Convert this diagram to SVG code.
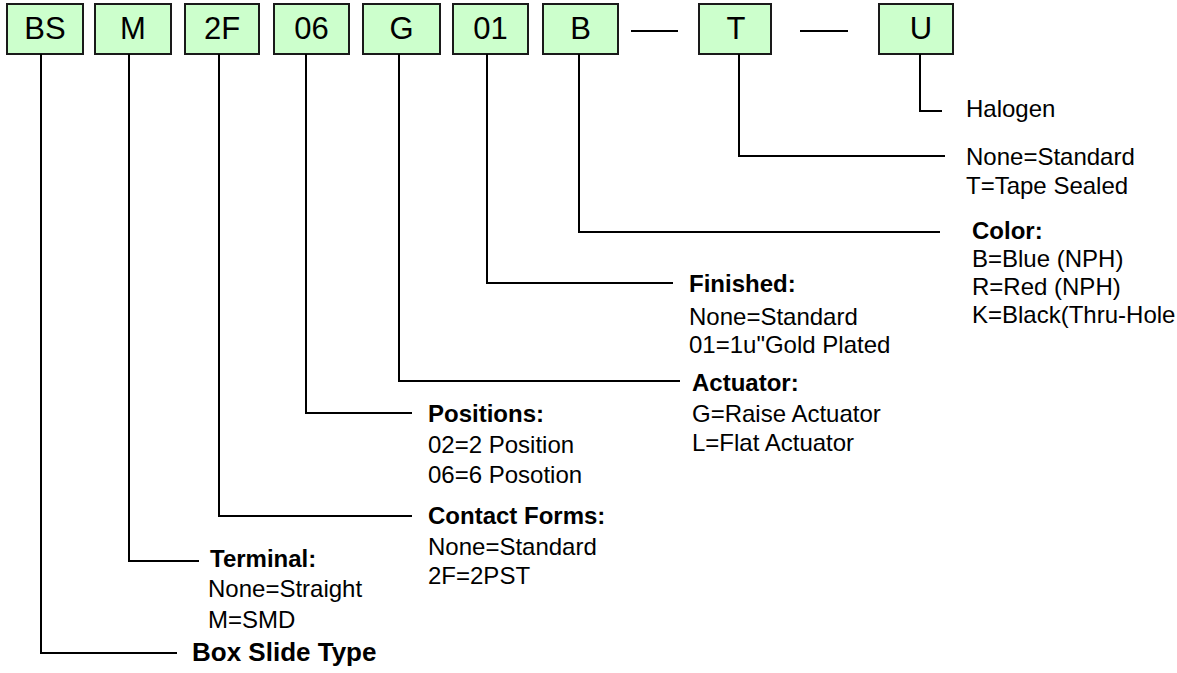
<svg xmlns="http://www.w3.org/2000/svg" width="1177" height="673" viewBox="0 0 1177 673">
<style>
.box{fill:#ccffcc;stroke:#1a1a1a;stroke-width:2}
.bt{font-family:"Liberation Sans",Arial,sans-serif;font-size:31px;fill:#000;text-anchor:middle}
.ln{fill:none;stroke:#000;stroke-width:2}
.t{font-family:"Liberation Sans",Arial,sans-serif;font-size:24px;fill:#000}
.h{font-weight:bold}
.big{font-size:26px}
</style>
<rect width="1177" height="673" fill="#fff"/>
<g id="node-BS"><rect class="box" x="7" y="4" width="76" height="50"/><text class="bt" x="45" y="39">BS</text></g>
<g id="node-M"><rect class="box" x="95" y="4" width="76" height="50"/><text class="bt" x="133" y="39">M</text></g>
<g id="node-2F"><rect class="box" x="185" y="4" width="74" height="50"/><text class="bt" x="222" y="39">2F</text></g>
<g id="node-06"><rect class="box" x="274" y="4" width="75" height="50"/><text class="bt" x="311.5" y="39">06</text></g>
<g id="node-G"><rect class="box" x="363" y="4" width="77" height="50"/><text class="bt" x="401.5" y="39">G</text></g>
<g id="node-01"><rect class="box" x="453" y="4" width="75" height="50"/><text class="bt" x="490.5" y="39">01</text></g>
<g id="node-B"><rect class="box" x="543" y="4" width="75" height="50"/><text class="bt" x="580.5" y="39">B</text></g>
<g id="node-T"><rect class="box" x="699" y="4" width="72" height="50"/><text class="bt" x="736" y="39">T</text></g>
<g id="node-U"><rect class="box" x="879" y="4" width="74" height="50"/><text class="bt" x="921" y="39">U</text></g>
<g id="connectors">
<path class="ln" d="M631 31H678"/>
<path class="ln" d="M800 31H848"/>
<path class="ln" d="M920 54V111H942"/>
<path class="ln" d="M739 54V156H945"/>
<path class="ln" d="M579 54V232H940"/>
<path class="ln" d="M487 54V283H673"/>
<path class="ln" d="M399 54V381H680"/>
<path class="ln" d="M306 54V413H412"/>
<path class="ln" d="M219 54V516H412"/>
<path class="ln" d="M129 54V561H199"/>
<path class="ln" d="M41 54V653H177"/>
</g>
<g id="label-U"><text class="t" x="966" y="117">Halogen</text></g>
<g id="label-T"><text class="t" x="966" y="165">None=Standard</text><text class="t" x="966" y="194">T=Tape Sealed</text></g>
<g id="label-B"><text class="t h" x="972" y="239">Color:</text><text class="t" x="972" y="267">B=Blue (NPH)</text><text class="t" x="972" y="295">R=Red (NPH)</text><text class="t" x="972" y="323">K=Black(Thru-Hole</text></g>
<g id="label-01"><text class="t h" x="689" y="292">Finished:</text><text class="t" x="689" y="325">None=Standard</text><text class="t" x="689" y="353">01=1u"Gold Plated</text></g>
<g id="label-G"><text class="t h" x="692" y="391">Actuator:</text><text class="t" x="692" y="422">G=Raise Actuator</text><text class="t" x="692" y="451">L=Flat Actuator</text></g>
<g id="label-06"><text class="t h" x="428" y="422">Positions:</text><text class="t" x="428" y="453">02=2 Position</text><text class="t" x="428" y="483">06=6 Posotion</text></g>
<g id="label-2F"><text class="t h" x="428" y="524">Contact Forms:</text><text class="t" x="428" y="555">None=Standard</text><text class="t" x="428" y="584">2F=2PST</text></g>
<g id="label-M"><text class="t h" x="210" y="567">Terminal:</text><text class="t" x="208" y="597">None=Straight</text><text class="t" x="208" y="628">M=SMD</text></g>
<g id="label-BS"><text class="t h big" x="192" y="661">Box Slide Type</text></g>
</svg>
